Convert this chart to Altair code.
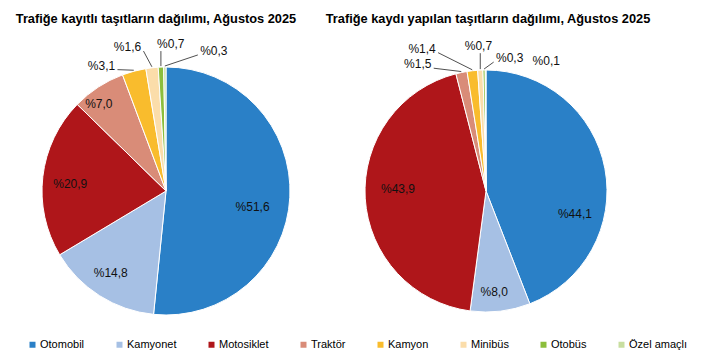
import altair as alt
import numpy as np
import pandas as pd

# ---- data ----
categories = ["Otomobil", "Kamyonet", "Motosiklet", "Traktör", "Kamyon", "Minibüs", "Otobüs", "Özel amaçlı"]
registered_share = [51.6, 14.8, 20.9, 7.0, 3.1, 1.6, 0.7, 0.3]
newly_registered_share = [44.1, 8.0, 43.9, 1.5, 1.4, 0.7, 0.3, 0.1]
titles = [
    "Trafiğe kayıtlı taşıtların dağılımı, Ağustos 2025",
    "Trafiğe kaydı yapılan taşıtların dağılımı, Ağustos 2025",
]

# ---- style / layout ----
colors = ["#2A80C7", "#A6C0E4", "#AF161A", "#D98C78", "#F9BC2D", "#FBDDAA", "#8CBE3C", "#C8DEA0"]
# label placement: angular shift from slice middle (deg), distance from centre (px), leader line
left_turn = [7.5, 1.5, -2.5, -4.5, -12.3, -8.5, 4.2, 19.4]
left_dist = [88, 99, 96, 110, 141, 149, 147, 148]
left_leader = [False, False, False, False, True, True, True, True]
right_turn = [25.4, 2.2, 5.0, -16.6, -17.7, -0.3, 11.0, 25.1]
right_dist = [92, 101, 88, 144, 156, 145, 135, 143]
right_leader = [False, False, False, True, True, True, True, False]

W, H = 310, 295
CX, CY = 153, 159
FONT = "Liberation Sans, Arial, sans-serif"


def fmt(v):
    return "%" + f"{v:.1f}".replace(".", ",")


def panel(values, title, radius, turn, dist, leader, title_dx):
    vals = np.array(values, dtype=float)
    frac = vals / vals.sum() * 360.0
    end = np.cumsum(frac)
    mid = end - frac / 2
    ang = np.radians(mid + np.array(turn))
    d = np.array(dist, dtype=float)
    df = pd.DataFrame({"category": categories, "value": values, "order": list(range(len(values)))})
    df["label"] = [fmt(v) for v in values]
    df["lx"] = CX + d * np.sin(ang)
    df["ly"] = CY - d * np.cos(ang)
    ex = CX + (radius + 1) * np.sin(np.radians(mid))
    ey = CY - (radius + 1) * np.cos(np.radians(mid))
    near = np.abs(df["lx"].values - ex) < 12
    df["sx"] = np.where(near, ex, np.where(df["lx"].values < ex, df["lx"].values + 16, df["lx"].values - 16))
    df["sy"] = np.where(near, df["ly"].values + 7, df["ly"].values + 4)
    df["ex"] = ex
    df["ey"] = ey
    ldf = df[np.array(leader)]

    xs = alt.Scale(domain=[0, W], nice=False, zero=False)
    ys = alt.Scale(domain=[0, H], nice=False, zero=False, reverse=True)

    arc = alt.Chart(df).mark_arc(outerRadius=radius, stroke="white", strokeWidth=1).encode(
        theta=alt.Theta("value:Q", stack=True),
        order=alt.Order("order:Q"),
        color=alt.Color(
            "category:N",
            scale=alt.Scale(domain=categories, range=colors),
            sort=categories,
            legend=alt.Legend(title=None),
        ),
        x=alt.value(CX),
        y=alt.value(CY),
    )
    lead = alt.Chart(ldf).mark_rule(color="#222222", strokeWidth=0.8).encode(
        x=alt.X("sx:Q", scale=xs, axis=None),
        y=alt.Y("sy:Q", scale=ys, axis=None),
        x2="ex:Q",
        y2="ey:Q",
    )
    text = alt.Chart(df).mark_text(font=FONT, fontSize=12, color="#111111").encode(
        x=alt.X("lx:Q", scale=xs, axis=None),
        y=alt.Y("ly:Q", scale=ys, axis=None),
        text="label:N",
    )
    return alt.layer(arc, lead, text).properties(
        width=W,
        height=H,
        title=alt.Title(title, font=FONT, fontSize=12.8, fontWeight="bold", anchor="middle", dx=title_dx, color="#000000", offset=6),
    )


left = panel(registered_share, titles[0], 124, left_turn, left_dist, left_leader, -12)
right = panel(newly_registered_share, titles[1], 121, right_turn, right_dist, right_leader, 0)

chart = (
    alt.hconcat(left, right, spacing=10, bounds="flush")
    .configure_view(stroke=None)
    .configure_legend(
        orient="none",
        legendX=14,
        legendY=307,
        direction="horizontal",
        columns=8,
        symbolType="square",
        symbolSize=36,
        symbolStrokeWidth=0,
        labelFont=FONT,
        labelFontSize=11,
        labelColor="#000000",
        columnPadding=29,
        labelOffset=2,
    )
)

chart.save("out.html", embed_options={"renderer": "svg", "actions": False})
